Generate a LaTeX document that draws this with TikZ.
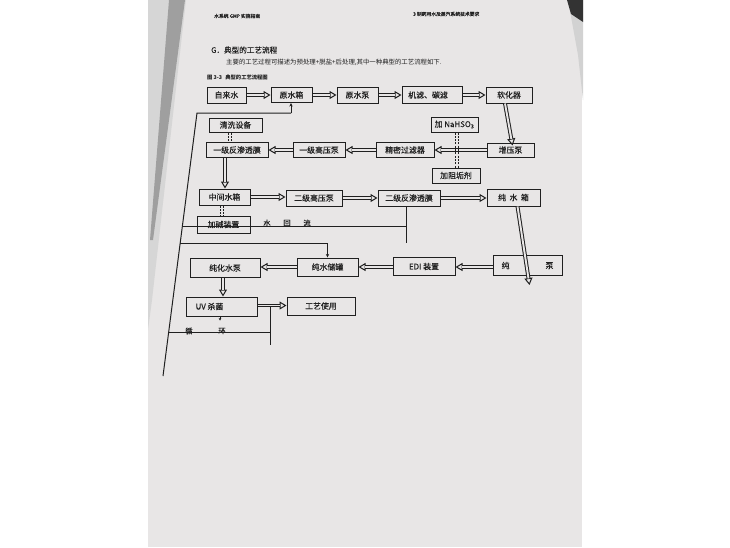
\documentclass[tikz,border=0pt]{standalone}
\usepackage{fontspec}
\setmainfont{Noto Sans CJK SC}
\newfontfamily\boxfont[FakeBold=0.3]{Noto Sans CJK SC}
\usetikzlibrary{arrows.meta,calc}
\definecolor{page}{HTML}{E8E6E6}
\definecolor{ink}{HTML}{202020}
\newcommand{\flw}[2]{%
  \draw[flowtip] #1 -- #2;
  \draw[flowshaft] #1 -- #2;}
\begin{document}
\begin{tikzpicture}[x=1pt,y=-1pt,
  box/.style={draw=ink, line width=1pt, fill=page, inner sep=0pt, text=ink,
    font=\boxfont\fontsize{7.9}{8}\selectfont},
  flowtip/.style={draw=ink, line width=1pt, -{Triangle[open,length=7pt,width=8pt]}},
  flowshaft/.style={draw=ink, double=page, double distance=1.9pt, line width=1pt, shorten >=6.6pt},
  dflow/.style={draw=ink, line width=1pt, dashed, dash pattern=on 2pt off 1.3pt, double=page, double distance=1.8pt},
  thin/.style={draw=ink, line width=1pt},
  tip/.style={thin, -{Stealth[length=3.6pt,width=3.4pt]}},
  lbl/.style={text=ink, inner sep=0pt, font=\boxfont\fontsize{7.3}{8}\selectfont}
]
\useasboundingbox (0,0) rectangle (730,547);
% background
\fill[white] (0,0) rectangle (730,547);
\fill[page] (148,0) rectangle (582,547);
\fill[gray!32] (148,0) -- (186,0) -- (152,300) -- (148,330) -- cycle;
\fill[gray!75] (169,0) -- (185,0) -- (153,240) -- (150,240) -- cycle;
\fill[gray!35] (568,0) -- (583,0) -- (583,100) -- (578,55) -- cycle;
\fill[black!80] (567,0) -- (583,0) -- (583,22) -- (571,14) -- cycle;

% header texts
\node[lbl, font=\boxfont\fontsize{4.8}{5}\selectfont, anchor=west] (h1) at (214,16) {水系统 GMP 实施指南};
\node[lbl, font=\boxfont\fontsize{4.8}{5}\selectfont, anchor=west] (h2) at (413,14) {3 制药用水及蒸汽系统技术要求};
\node[lbl, font=\boxfont\fontsize{7.6}{8}\selectfont, anchor=west] (h3) at (211,50) {G．典型的工艺流程};
\node[lbl, font=\fontsize{6.4}{7}\selectfont, anchor=west] (h4) at (226,62.5) {主要的工艺过程可描述为预处理+脱盐+后处理,其中一种典型的工艺流程如下.};
\node[lbl, font=\bfseries\fontsize{5.3}{6}\selectfont, anchor=west] (h5) at (207,77.5) {图 3-3\hspace{0.6em}典型的工艺流程图};

% boxes
\node[box, minimum width=39pt, minimum height=16pt] (zls) at (226.5,95) {自来水};
\node[box, minimum width=41pt, minimum height=15pt] (ysx) at (291.5,95) {原水箱};
\node[box, minimum width=41pt, minimum height=16pt] (ysb) at (357.5,95) {原水泵};
\node[box, minimum width=60pt, minimum height=17pt] (jl) at (432,95) {机滤、碳滤\hspace*{8pt}};
\node[box, minimum width=46pt, minimum height=16pt] (rhq) at (509,95) {软化器};
\node[box, minimum width=53pt, minimum height=14pt] (qx) at (235.5,125) {清洗设备};
\node[box, minimum width=47pt, minimum height=15pt] (nahso) at (454.5,124.5) {加 NaHSO\textsubscript{3}};
\node[box, minimum width=62pt, minimum height=15pt] (yjf) at (237,150) {一级反渗透膜};
\node[box, minimum width=52pt, minimum height=15pt] (yjg) at (319,150) {一级高压泵};
\node[box, minimum width=58pt, minimum height=15pt] (jm) at (405,150) {精密过滤器};
\node[box, minimum width=47pt, minimum height=14pt] (zyb) at (510.5,150) {增压泵};
\node[box, minimum width=48pt, minimum height=15pt] (jzg) at (456,175.5) {加阻垢剂};
\node[box, minimum width=51pt, minimum height=16pt] (zj) at (224.5,197) {中间水箱};
\node[box, minimum width=56pt, minimum height=16pt] (ejg) at (314,198) {二级高压泵};
\node[box, minimum width=62pt, minimum height=16pt] (ejf) at (409,198) {二级反渗透膜};
\node[box, minimum width=53pt, minimum height=17pt] (csx) at (513.5,197.5) {纯\hspace{0.45em}水\hspace{0.45em}箱};
\node[box, minimum width=53pt, minimum height=17pt] (jj) at (223.5,224.5) {加碱装置};
\node[box, minimum width=70pt, minimum height=19pt] (chsb) at (225,268) {纯化水泵};
\node[box, minimum width=61pt, minimum height=18pt] (csg) at (327.5,267) {纯水储罐};
\node[box, minimum width=62pt, minimum height=18pt] (edi) at (424,266.5) {EDI 装置};
\node[box, minimum width=69pt, minimum height=20pt] (cb) at (527.5,265.5) {纯\hspace{36pt}泵};
\node[box, minimum width=71pt, minimum height=19pt] (uv) at (221.5,306.5) {UV 杀菌\hspace*{24pt}};
\node[box, minimum width=68pt, minimum height=18pt] (gy) at (321,306) {工艺使用};

% main flow arrows
\flw{(zls.east)}{(zls.east -| ysx.west)}
\flw{(ysx.east)}{(ysx.east -| ysb.west)}
\flw{(ysb.east)}{(ysb.east -| jl.west)}
\flw{(jl.east)}{(jl.east -| rhq.west)}
\flw{([xshift=-4pt]rhq.south)}{([xshift=2pt,yshift=-3pt]zyb.north)}
\flw{(zyb.west)}{(zyb.west -| jm.east)}
\flw{(jm.west)}{(jm.west -| yjg.east)}
\flw{(yjg.west)}{(yjg.west -| yjf.east)}
\flw{([xshift=-12pt]yjf.south)}{([xshift=-12pt]yjf.south |- zj.north)}
\flw{(zj.east)}{(zj.east -| ejg.west)}
\flw{(ejg.east)}{(ejg.east -| ejf.west)}
\flw{(ejf.east)}{(ejf.east -| csx.west)}
\coordinate (cbtip) at (529.5,285);
\flw{([xshift=4pt]csx.south)}{(cbtip)}
\coordinate (row7) at (cb.west |- csg.east);
\flw{(row7)}{(row7 -| edi.east)}
\flw{(row7 -| edi.west)}{(row7 -| csg.east)}
\flw{(csg.west)}{(csg.west -| chsb.east)}
\flw{([xshift=-2pt]chsb.south)}{([xshift=-2pt]chsb.south |- uv.north)}
\flw{([yshift=1pt]uv.east)}{([yshift=1pt]uv.east -| gy.west)}

% dashed dosing lines
\draw[dflow] ([xshift=2.5pt]nahso.south) -- ([xshift=2.5pt]nahso.south |- jzg.north);
\draw[dflow] ([xshift=-5.5pt]qx.south) -- ([xshift=-5.5pt]qx.south |- yjf.north);
\draw[dflow] ([xshift=-2.5pt]zj.south) -- ([xshift=-2.5pt]zj.south |- jj.north);

% return / recirculation lines
\coordinate (L0) at (197,113);
\coordinate (L1) at (163,376);
\coordinate (La) at ($(L0)!0.4297!(L1)$);
\coordinate (Lb) at ($(L0)!0.4943!(L1)$);
\coordinate (Lc) at ($(L0)!0.8327!(L1)$);
\coordinate (Ra) at ([xshift=-0.5pt]ysx.south |- L0);
\draw[thin] (L1) -- (L0) -- (Ra);
\draw[tip] (Ra) -- ([xshift=-0.5pt]ysx.south);
\coordinate (E0) at ([xshift=-3pt]ejf.south);
\coordinate (E1) at (E0 |- Lb);
\draw[thin] (E0) -- (E1);
\draw[thin] (La) -- (La -| E0);
\coordinate (S0) at (csg.north |- Lb);
\draw[thin] (Lb) -- (S0);
\draw[tip] (S0) -- (csg.north);
\coordinate (V0) at (270,306);
\coordinate (V1) at (270,345);
\draw[thin] (V0) -- (V1);
\draw[thin] (Lc) -- (Lc -| V0);
\draw[thin, -{Stealth[length=2.6pt,width=2.6pt]}] ([xshift=-1.5pt]uv.south) -- ++(0,4);

% line labels
\node[lbl] (shl1) at (267,223) {水};
\node[lbl] (shl2) at (287,223) {回};
\node[lbl] (shl3) at (307,223) {流};
\node[lbl] (xh1) at (189,331) {循};
\node[lbl] (xh2) at (222,331) {环};
\end{tikzpicture}
\end{document}
